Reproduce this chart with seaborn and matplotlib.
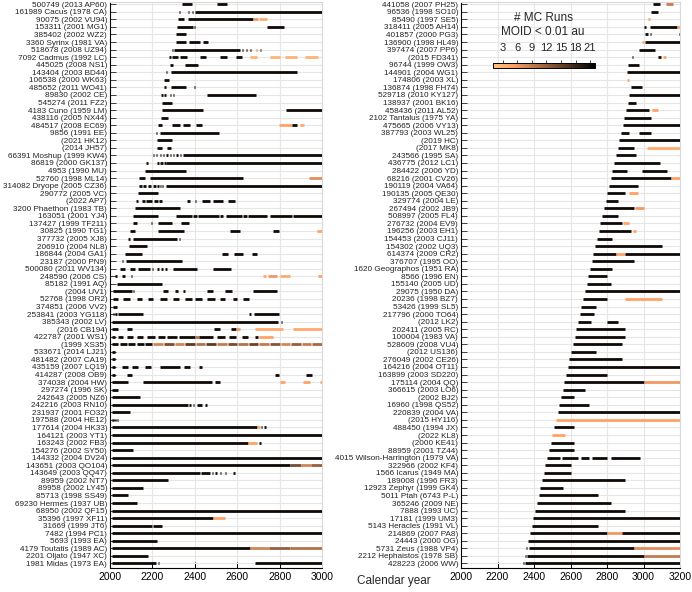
import numpy as np
import pandas as pd
import matplotlib
matplotlib.use("Agg")
import matplotlib.pyplot as plt
from matplotlib.colors import Normalize
from matplotlib.cm import ScalarMappable
import seaborn as sns

# ---------------- data ----------------
left_names = [
    "500749 (2013 AP60)", "161989 Cacus (1978 CA)", "90075 (2002 VU94)", "153311 (2001 MG1)",
    "385402 (2002 WZ2)", "3360 Syrinx (1981 VA)", "518678 (2008 UZ94)", "7092 Cadmus (1992 LC)",
    "445025 (2008 NS1)", "143404 (2003 BD44)", "106538 (2000 WK63)", "485652 (2011 WO41)",
    "89830 (2002 CE)", "545274 (2011 FZ2)", "4183 Cuno (1959 LM)", "438116 (2005 NX44)",
    "484517 (2008 EC69)", "9856 (1991 EE)", "(2021 HK12)", "(2014 JH57)",
    "66391 Moshup (1999 KW4)", "86819 (2000 GK137)", "4953 (1990 MU)", "52760 (1998 ML14)",
    "314082 Dryope (2005 CZ36)", "290772 (2005 VC)", "(2022 AP7)", "3200 Phaethon (1983 TB)",
    "163051 (2001 YJ4)", "137427 (1999 TF211)", "30825 (1990 TG1)", "377732 (2005 XJ8)",
    "206910 (2004 NL8)", "186844 (2004 GA1)", "23187 (2000 PN9)", "500080 (2011 WV134)",
    "248590 (2006 CS)", "85182 (1991 AQ)", "(2004 UV1)", "52768 (1998 OR2)",
    "374851 (2006 VV2)", "253841 (2003 YG118)", "385343 (2002 LV)", "(2016 CB194)",
    "422787 (2001 WS1)", "(1999 XS35)", "533671 (2014 LJ21)", "481482 (2007 CA19)",
    "435159 (2007 LQ19)", "414287 (2008 OB9)", "374038 (2004 HW)", "297274 (1996 SK)",
    "242643 (2005 NZ6)", "242216 (2003 RN10)", "231937 (2001 FO32)", "197588 (2004 HE12)",
    "177614 (2004 HK33)", "164121 (2003 YT1)", "163243 (2002 FB3)", "154276 (2002 SY50)",
    "144332 (2004 DV24)", "143651 (2003 QO104)", "143649 (2003 QQ47)", "89959 (2002 NT7)",
    "89958 (2002 LY45)", "85713 (1998 SS49)", "69230 Hermes (1937 UB)", "68950 (2002 QF15)",
    "35396 (1997 XF11)", "31669 (1999 JT6)", "7482 (1994 PC1)", "5693 (1993 EA)",
    "4179 Toutatis (1989 AC)", "2201 Oljato (1947 XC)", "1981 Midas (1973 EA)",
]

# (start year, end year, number of MC runs with MOID < 0.01 au)
left_segments = [
    [(2338, 2385, 21), (2503, 2550, 21)],
    [(2325, 2331, 21), (2368, 2374, 21), (2385, 2391, 21), (2400, 3000, 21)],
    [(2322, 2349, 21), (2369, 2676, 21), (2676, 2700, 6), (2705, 2739, 4)],
    [(2314, 2393, 21), (2396, 2401, 21), (2742, 2821, 21)],
    [(2310, 2357, 21)],
    [(2310, 2360, 21), (2373, 2424, 21), (2440, 2460, 21)],
    [(2292, 2298, 21), (2303, 2613, 21), (2622, 2628, 21), (2640, 2646, 21), (2660, 2666, 21),
     (2688, 2694, 8), (2708, 2714, 18)],
    [(2280, 2286, 21), (2294, 2322, 21), (2330, 2361, 21), (2424, 2452, 21), (2519, 2550, 21),
     (2594, 2621, 21), (2660, 2692, 3), (2755, 2802, 3), (2825, 2880, 3), (2920, 2983, 3)],
    [(2283, 2299, 21), (2354, 2417, 21)],
    [(2262, 2268, 21), (2286, 2880, 21)],
    [(2255, 2280, 21)],
    [(2253, 2264, 21), (2286, 2358, 21), (2394, 2400, 21)],
    [(2242, 2248, 21), (2257, 2263, 21), (2281, 2287, 21), (2297, 2303, 21), (2456, 2687, 21)],
    [(2244, 2294, 21)],
    [(2244, 2440, 21), (2830, 3000, 21)],
    [(2240, 2275, 21)],
    [(2228, 2244, 21), (2291, 2330, 21), (2346, 2377, 21), (2406, 2432, 21), (2799, 2857, 5),
     (2857, 2880, 21), (2896, 2915, 4)],
    [(2218, 2224, 21), (2236, 2516, 21)],
    [(2220, 2294, 21)],
    [(2223, 2244, 21), (2267, 2290, 21)],
    [(2201, 2207, 21), (2218, 2224, 21), (2234, 2240, 21), (2250, 2256, 21), (2266, 2272, 21),
     (2281, 2287, 21), (2297, 2303, 21), (2313, 2319, 21), (2328, 2334, 21), (2346, 3000, 21)],
    [(2171, 2177, 21), (2220, 2232, 21), (2238, 2250, 21), (2255, 2262, 21), (2264, 3000, 21)],
    [(2165, 2358, 21)],
    [(2138, 2165, 21), (2189, 2626, 21), (2940, 3000, 7)],
    [(2138, 2150, 21), (2158, 2172, 21), (2180, 2195, 21), (2203, 2218, 21), (2224, 2230, 21),
     (2236, 2242, 21), (2246, 2252, 21), (2262, 3000, 21)],
    [(2134, 2228, 21)],
    [(2124, 2130, 21), (2149, 2165, 21), (2172, 2200, 21), (2206, 2225, 21), (2232, 2244, 21),
     (2363, 2377, 21), (2399, 2405, 21), (2432, 2472, 21), (2487, 2534, 21), (2558, 2590, 21)],
    [(2118, 2330, 21)],
    [(2107, 2228, 21), (2311, 2385, 21), (2393, 2410, 21), (2417, 2512, 21), (2519, 2535, 21),
     (2547, 2621, 21), (2629, 2645, 21), (2653, 2739, 21), (2755, 2857, 21), (2865, 3000, 21)],
    [(2107, 2129, 21), (2193, 2199, 21), (2228, 2291, 21), (2335, 2373, 21)],
    [(2094, 2118, 21), (2228, 2349, 21), (2566, 2613, 21), (2770, 2799, 21), (2975, 3000, 5)],
    [(2087, 2093, 21), (2107, 2314, 21), (2324, 2330, 21)],
    [(2091, 2173, 21)],
    [(2071, 2149, 21), (2527, 2558, 21), (2585, 2626, 21), (2668, 2695, 21)],
    [(2056, 2062, 21), (2075, 2338, 21)],
    [(2047, 2071, 21), (2094, 2118, 21), (2134, 2189, 21), (2198, 2204, 21), (2220, 2232, 21),
     (2240, 2250, 21), (2258, 2267, 21), (2296, 2409, 21), (2487, 2573, 21)],
    [(2024, 2031, 21), (2055, 2071, 21), (2099, 2105, 21), (2723, 2735, 4), (2745, 2790, 6),
     (2800, 2849, 4), (2983, 3000, 5)],
    [(2031, 2244, 21)],
    [(2016, 2102, 21), (2108, 2114, 21), (2252, 2275, 21), (2306, 2322, 21), (2343, 2354, 21),
     (2456, 2487, 21), (2542, 2574, 21), (2673, 2786, 21)],
    [(2016, 2040, 21), (2063, 2094, 21), (2126, 2149, 21), (2181, 2205, 21), (2236, 2267, 21),
     (2296, 2327, 21), (2354, 2385, 21), (2401, 2432, 21), (2456, 2495, 21), (2519, 2542, 21),
     (2579, 2601, 21), (2629, 2657, 21)],
    [(2016, 2033, 21)],
    [(2013, 2019, 21), (2025, 2031, 21), (2038, 2156, 21), (2657, 2663, 21), (2679, 2796, 21)],
    [(2008, 2794, 21), (2807, 2813, 21)],
    [(2008, 2040, 21), (2078, 2102, 21), (2491, 2519, 21), (2571, 2594, 21), (2594, 2613, 6),
     (2684, 2814, 4), (2861, 3000, 4)],
    [(2008, 2022, 21), (2040, 2063, 21), (2078, 2110, 21), (2126, 2157, 21), (2173, 2212, 21),
     (2228, 2259, 21), (2267, 2314, 21), (2327, 2400, 21), (2400, 2420, 10), (2420, 2484, 21),
     (2503, 2542, 21), (2563, 2594, 21), (2621, 2652, 21), (2684, 2700, 21), (2705, 2767, 5)],
    [(2008, 2040, 21), (2045, 2080, 21), (2085, 2120, 21), (2125, 2160, 21), (2165, 2200, 21),
     (2205, 2250, 8), (2255, 2300, 14), (2305, 2350, 8), (2355, 2400, 16), (2405, 2450, 10),
     (2455, 2500, 16), (2505, 2550, 9), (2555, 2600, 14), (2605, 2650, 10), (2655, 2700, 15),
     (2705, 2750, 9), (2755, 2800, 13), (2805, 2850, 8), (2855, 2900, 12), (2905, 2950, 9),
     (2955, 3000, 11)],
    [(2008, 2022, 21)],
    [(2008, 2022, 21)],
    [(2008, 2022, 21), (2055, 2083, 21), (2106, 2134, 21), (2165, 2193, 21), (2236, 2330, 21),
     (2349, 2377, 21), (2421, 2432, 21)],
    [(2008, 2024, 21), (2078, 2102, 21), (2778, 2797, 21), (2925, 2953, 21)],
    [(2008, 2087, 21), (2157, 2480, 21), (2495, 2519, 21), (2802, 2825, 5), (2910, 2943, 5),
     (2990, 3000, 5)],
    [(2008, 2040, 21)],
    [(2008, 2140, 21)],
    [(2008, 2369, 21), (2374, 2380, 21), (2390, 2396, 21), (2412, 2432, 21), (2450, 2456, 21)],
    [(2008, 2094, 21)],
    [(2008, 2012, 21), (2016, 2020, 21), (2024, 2028, 21), (2032, 2036, 21)],
    [(2008, 2692, 21), (2692, 2708, 5), (2713, 2719, 21), (2728, 2734, 21)],
    [(2008, 3000, 21)],
    [(2008, 2652, 21), (2652, 2692, 5), (2705, 2711, 21)],
    [(2008, 2110, 21)],
    [(2008, 3000, 21)],
    [(2008, 2849, 21), (2849, 2900, 14), (2900, 2950, 8), (2950, 3000, 12)],
    [(2008, 2425, 21), (2428, 2470, 21), (2480, 2486, 21), (2497, 2503, 21), (2517, 2523, 21),
     (2542, 2548, 21), (2582, 2588, 21)],
    [(2008, 2275, 21)],
    [(2008, 2154, 21)],
    [(2008, 2087, 21)],
    [(2008, 2129, 21)],
    [(2008, 3000, 21)],
    [(2008, 2487, 21), (2487, 2542, 5)],
    [(2008, 2196, 21), (2205, 2244, 21)],
    [(2008, 3000, 21)],
    [(2008, 2223, 21)],
    [(2008, 2660, 21), (2660, 2750, 8), (2750, 2850, 12), (2850, 3000, 10)],
    [(2008, 2181, 21)],
    [(2008, 2217, 21), (2225, 2231, 21), (2684, 3000, 21)],
]

right_names = [
    "441058 (2007 PH25)", "96536 (1998 SO10)", "85490 (1997 SE5)", "318411 (2005 AH14)",
    "401857 (2000 PG3)", "136900 (1998 HL49)", "397474 (2007 PP6)", "(2015 FD341)",
    "96744 (1999 OW3)", "144901 (2004 WG1)", "174806 (2003 XL)", "136874 (1998 FH74)",
    "529718 (2010 KY127)", "138937 (2001 BK16)", "458436 (2011 AL52)", "2102 Tantalus (1975 YA)",
    "475665 (2006 VY13)", "387793 (2003 WL25)", "(2019 HC)", "(2017 MK8)",
    "243566 (1995 SA)", "436775 (2012 LC1)", "284422 (2006 YD)", "68216 (2001 CV26)",
    "190119 (2004 VA64)", "190135 (2005 QE30)", "329774 (2004 LE)", "267494 (2002 JB9)",
    "508997 (2005 FL4)", "276732 (2004 EV9)", "196256 (2003 EH1)", "154453 (2003 CJ11)",
    "154302 (2002 UQ3)", "614374 (2009 CR2)", "376707 (1995 OO)", "1620 Geographos (1951 RA)",
    "8566 (1996 EN)", "155140 (2005 UD)", "29075 (1950 DA)", "20236 (1998 BZ7)",
    "53426 (1999 SL5)", "217796 (2000 TO64)", "(2012 LK2)", "202411 (2005 RC)",
    "100004 (1983 VA)", "528609 (2008 VU4)", "(2012 US136)", "276049 (2002 CE26)",
    "164216 (2004 OT11)", "163899 (2003 SD220)", "175114 (2004 QQ)", "366615 (2003 LO6)",
    "(2002 BJ2)", "16960 (1998 QS52)", "220839 (2004 VA)", "(2015 HY116)",
    "488450 (1994 JX)", "(2022 KL8)", "(2000 KE41)", "88959 (2001 TZ44)",
    "4015 Wilson-Harrington (1979 VA)", "322966 (2002 KF4)", "1566 Icarus (1949 MA)", "189008 (1996 FR3)",
    "12923 Zephyr (1999 GK4)", "5011 Ptah (6743 P-L)", "365246 (2009 NE)", "7888 (1993 UC)",
    "17181 (1999 UM3)", "5143 Heracles (1991 VL)", "214869 (2007 PA8)", "24443 (2000 OG)",
    "5731 Zeus (1988 VP4)", "2212 Hephaistos (1978 SB)", "428223 (2006 WW)",
]

right_segments = [
    [(3052, 3090, 21), (3123, 3162, 9)],
    [(3041, 3079, 21)],
    [(3025, 3036, 5)],
    [(3005, 3011, 21), (3036, 3184, 21), (3184, 3200, 5)],
    [(3008, 3025, 21), (3033, 3039, 21), (3192, 3198, 21)],
    [(2994, 3000, 5), (3008, 3200, 21)],
    [(2975, 3063, 21)],
    [(2939, 2945, 21), (3079, 3096, 21), (3107, 3123, 5)],
    [(2915, 2975, 21)],
    [(2910, 3200, 21)],
    [(2912, 2918, 5)],
    [(2933, 2990, 21)],
    [(2923, 3200, 21)],
    [(2914, 2960, 21)],
    [(2905, 3030, 21), (3045, 3080, 5)],
    [(2895, 3040, 21)],
    [(2886, 3200, 21)],
    [(2876, 2920, 21), (2975, 3040, 21)],
    [(2867, 3200, 21)],
    [(2858, 2950, 21), (3020, 3200, 4)],
    [(2848, 2960, 21)],
    [(2839, 3090, 21)],
    [(2829, 2910, 21), (2990, 3130, 21)],
    [(2820, 3150, 21), (3150, 3200, 5)],
    [(2811, 2970, 21)],
    [(2801, 2900, 21), (2920, 2970, 5)],
    [(2792, 2860, 21)],
    [(2782, 2950, 21), (2955, 3000, 6)],
    [(2773, 2860, 21)],
    [(2764, 2880, 21), (2890, 2920, 5)],
    [(2754, 2930, 21), (2940, 2960, 5)],
    [(2745, 2830, 21)],
    [(2735, 3100, 21)],
    [(2726, 2850, 21), (2850, 2900, 5), (2900, 3200, 21)],
    [(2717, 2950, 21)],
    [(2707, 2830, 21)],
    [(2698, 2800, 21)],
    [(2688, 2820, 21)],
    [(2679, 3200, 21)],
    [(2670, 2800, 21), (2900, 3100, 5)],
    [(2660, 2740, 21)],
    [(2651, 2730, 21)],
    [(2641, 2710, 21), (2800, 2860, 21)],
    [(2632, 2900, 21)],
    [(2623, 2900, 21)],
    [(2613, 2880, 21)],
    [(2604, 2740, 21)],
    [(2594, 2880, 21)],
    [(2585, 3200, 21)],
    [(2576, 2800, 21)],
    [(2566, 3000, 21), (3000, 3200, 6)],
    [(2557, 2680, 21)],
    [(2547, 2620, 21)],
    [(2538, 2700, 21)],
    [(2529, 3200, 21)],
    [(2519, 3200, 5)],
    [(2510, 2620, 21)],
    [(2500, 2570, 5)],
    [(2491, 2620, 21)],
    [(2482, 2620, 21)],
    [(2472, 2540, 21), (2555, 2640, 21), (2660, 2700, 21), (2720, 2800, 21), (2820, 2980, 21)],
    [(2463, 2600, 21)],
    [(2453, 2600, 21)],
    [(2444, 2900, 21)],
    [(2435, 2560, 21)],
    [(2425, 2750, 21)],
    [(2416, 2820, 21)],
    [(2406, 2900, 21)],
    [(2397, 3200, 21)],
    [(2388, 2750, 21)],
    [(2378, 2800, 21), (2800, 2880, 6), (2880, 3200, 21)],
    [(2369, 3200, 21)],
    [(2357, 2363, 21), (2372, 2950, 21), (2950, 3200, 7)],
    [(2348, 2354, 21), (2362, 3000, 21), (3000, 3200, 9)],
    [(2338, 2344, 21), (2352, 3200, 21)],
]

cbar_ticks = [3, 6, 9, 12, 15, 18, 21]

# ---------------- style ----------------
sns.set_theme(style="whitegrid")
plt.rcParams["font.family"] = ["Liberation Sans", "DejaVu Sans"]

cmap = sns.color_palette("copper_r", as_cmap=True)
norm = Normalize(vmin=1, vmax=22)


def to_frame(segments):
    recs = []
    for i, segs in enumerate(segments):
        for start, end, runs in segs:
            recs.append({"row": i, "start": start, "end": end, "runs": runs})
    return pd.DataFrame(recs)


def draw_panel(ax, names, segments, xmax):
    df = to_frame(segments)
    ax.hlines(df["row"], df["start"], df["end"],
              colors=cmap(norm(df["runs"].values)), lw=2.0, zorder=3)
    ax.set_xlim(2000, xmax)
    ax.set_ylim(len(names) - 0.4, -0.3)
    ax.set_yticks(np.arange(len(names)))
    ax.set_yticklabels(names, fontsize=5.9, color="#222222")
    ax.set_xticks(np.arange(2000, xmax + 1, 200))
    ax.tick_params(axis="x", labelsize=7.5, direction="in", length=4, width=0.7,
                   colors="black", pad=3, bottom=True)
    ax.tick_params(axis="y", direction="in", length=4, width=0.6, pad=2, left=True)
    ax.grid(True, color="#e6e6e6", lw=0.8)
    for side in ["left", "bottom"]:
        ax.spines[side].set_color("black")
        ax.spines[side].set_linewidth(0.8)
    for side in ["top", "right"]:
        ax.spines[side].set_color("#d8d8d8")
        ax.spines[side].set_linewidth(0.8)


fig = plt.figure(figsize=(6.92, 5.92), dpi=100)
H, W = 592, 692
ax_l = fig.add_axes([110 / W, 1 - 568 / H, 212 / W, 566 / H])
ax_r = fig.add_axes([461 / W, 1 - 568 / H, 219 / W, 566 / H])

draw_panel(ax_l, left_names, left_segments, 3000)
draw_panel(ax_r, right_names, right_segments, 3200)

fig.text(394 / W, 1 - 581 / H, "Calendar year", ha="center", va="center", fontsize=8.5)

# colour bar legend
cax = fig.add_axes([493 / W, 1 - 68 / H, 102 / W, 5.5 / H])
cb = fig.colorbar(ScalarMappable(norm=norm, cmap=cmap), cax=cax,
                  orientation="horizontal", ticks=cbar_ticks)
cax.xaxis.set_ticks_position("top")
cax.tick_params(labelsize=8, length=2.5, width=0.6, pad=4)
cb.outline.set_linewidth(0.7)
cb.outline.set_edgecolor("black")
fig.text(543 / W, 1 - 18 / H, "# MC Runs", ha="center", va="center", fontsize=8.5)
fig.text(543 / W, 1 - 32 / H, "MOID < 0.01 au", ha="center", va="center", fontsize=8.5)

fig.savefig("out.png", dpi=100)
